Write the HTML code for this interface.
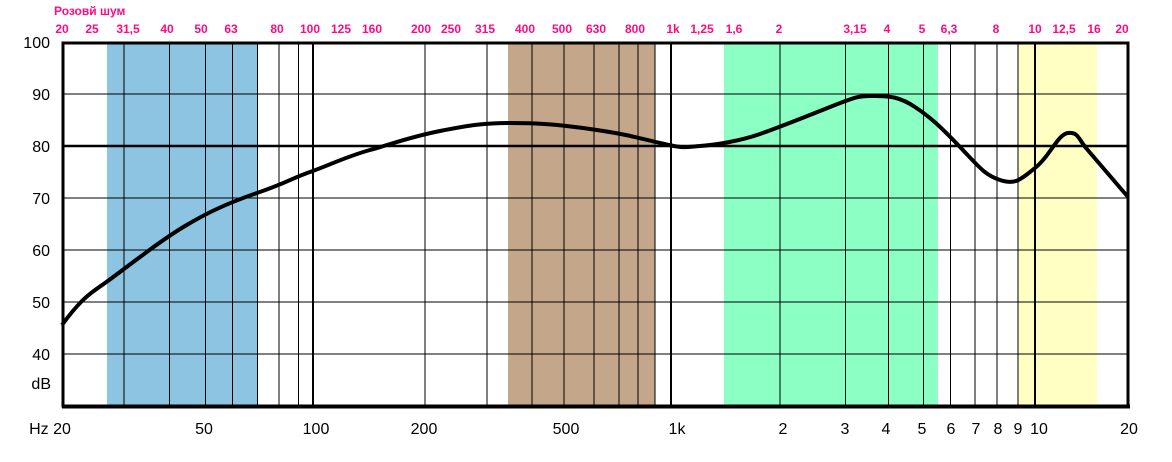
<!DOCTYPE html>
<html><head><meta charset="utf-8"><style>
body{margin:0;background:#fff}
svg{display:block}
text{font-family:"Liberation Sans",Arial,sans-serif}
.p{fill:#ff0a80;font-size:12px;font-weight:bold;text-anchor:middle}
.y{font-size:16px;text-anchor:end}
.b{font-size:16px;text-anchor:middle}
</style></head><body>
<svg width="1172" height="462" viewBox="0 0 1172 462">
<rect x="107" y="43" width="150" height="364" fill="#8cc4e2"/>
<rect x="508" y="43" width="147" height="364" fill="#c4a68a"/>
<rect x="724" y="43" width="214" height="364" fill="#8cffc4"/>
<rect x="1018" y="43" width="79" height="364" fill="#ffffc4"/>
<g stroke="#000" stroke-width="1">
<line x1="124" y1="42" x2="124" y2="407"/><line x1="169.5" y1="42" x2="169.5" y2="407"/><line x1="205.5" y1="42" x2="205.5" y2="407"/><line x1="232.5" y1="42" x2="232.5" y2="407"/><line x1="257.5" y1="42" x2="257.5" y2="407"/><line x1="279" y1="42" x2="279" y2="407"/><line x1="298.5" y1="42" x2="298.5" y2="407"/><line x1="425" y1="42" x2="425" y2="407"/><line x1="487" y1="42" x2="487" y2="407"/><line x1="532" y1="42" x2="532" y2="407"/><line x1="564" y1="42" x2="564" y2="407"/><line x1="594" y1="42" x2="594" y2="407"/><line x1="619" y1="42" x2="619" y2="407"/><line x1="638" y1="42" x2="638" y2="407"/><line x1="655" y1="42" x2="655" y2="407"/><line x1="780" y1="42" x2="780" y2="407"/><line x1="845.5" y1="42" x2="845.5" y2="407"/><line x1="888.5" y1="42" x2="888.5" y2="407"/><line x1="923.5" y1="42" x2="923.5" y2="407"/><line x1="950.5" y1="42" x2="950.5" y2="407"/><line x1="975" y1="42" x2="975" y2="407"/><line x1="997" y1="42" x2="997" y2="407"/><line x1="1018" y1="42" x2="1018" y2="407"/>
<line x1="62" y1="94" x2="1128" y2="94"/><line x1="62" y1="198" x2="1128" y2="198"/><line x1="62" y1="250" x2="1128" y2="250"/><line x1="62" y1="302" x2="1128" y2="302"/><line x1="62" y1="354" x2="1128" y2="354"/>
</g>
<g stroke="#000" stroke-width="2">
<line x1="313" y1="42" x2="313" y2="407"/><line x1="671" y1="42" x2="671" y2="407"/><line x1="1035" y1="42" x2="1035" y2="407"/>
<line x1="62" y1="146" x2="1128" y2="146" stroke-width="2.5"/>
</g>
<rect x="63" y="43" width="1065" height="363" fill="none" stroke="#000" stroke-width="3"/>
<line x1="62" y1="406.5" x2="1130" y2="406.5" stroke="#000" stroke-width="4"/>
<path d="M62,325 C70,314 75,308 82,301 S95,290 105,283 S125,268 140,257 S165,238 185,226 S225,204 257,193 S290,179 310,172 S345,157 370,150 S410,137 440,131 S485,123 510,123 S555,124 590,129 S635,137 660,143 S685,147 700,146 S740,141 760,134 S800,119 830,107 S860,96 875,96 S900,97 915,107 S940,126 960,147 S985,175 1000,180 S1020,180 1035,168 S1058,134 1068,133 S1078,138 1086,148 L1128,197" fill="none" stroke="#000" stroke-width="4" stroke-linejoin="round"/>
<text x="55" y="15" class="p" style="text-anchor:start" dx="-1">Розовй шум</text>
<g class="p">
<text x="62" y="33">20</text><text x="92" y="33">25</text><text x="128" y="33">31,5</text><text x="167" y="33">40</text><text x="201" y="33">50</text><text x="231" y="33">63</text><text x="277" y="33">80</text><text x="310" y="33">100</text><text x="341" y="33">125</text><text x="372" y="33">160</text><text x="421" y="33">200</text><text x="451" y="33">250</text><text x="485" y="33">315</text><text x="525" y="33">400</text><text x="562" y="33">500</text><text x="596" y="33">630</text><text x="635" y="33">800</text><text x="673" y="33">1k</text><text x="702" y="33">1,25</text><text x="734" y="33">1,6</text><text x="779" y="33">2</text><text x="855" y="33">3,15</text><text x="887" y="33">4</text><text x="922" y="33">5</text><text x="949" y="33">6,3</text><text x="996" y="33">8</text><text x="1035" y="33">10</text><text x="1064" y="33">12,5</text><text x="1094" y="33">16</text><text x="1122" y="33">20</text>
</g>
<g class="y">
<text x="50" y="48">100</text><text x="50" y="100">90</text><text x="50" y="152">80</text><text x="50" y="204">70</text><text x="50" y="256">60</text><text x="50" y="308">50</text><text x="50" y="360">40</text><text x="51" y="389">dB</text>
</g>
<g class="b">
<text x="50" y="434">Hz 20</text><text x="204" y="434">50</text><text x="316" y="434">100</text><text x="424" y="434">200</text><text x="566" y="434">500</text><text x="677" y="434">1k</text><text x="783" y="434">2</text><text x="845" y="434">3</text><text x="886" y="434">4</text><text x="922" y="434">5</text><text x="951" y="434">6</text><text x="976" y="434">7</text><text x="998" y="434">8</text><text x="1018" y="434">9</text><text x="1039" y="434">10</text><text x="1129" y="434">20</text>
</g>
</svg>
</body></html>
